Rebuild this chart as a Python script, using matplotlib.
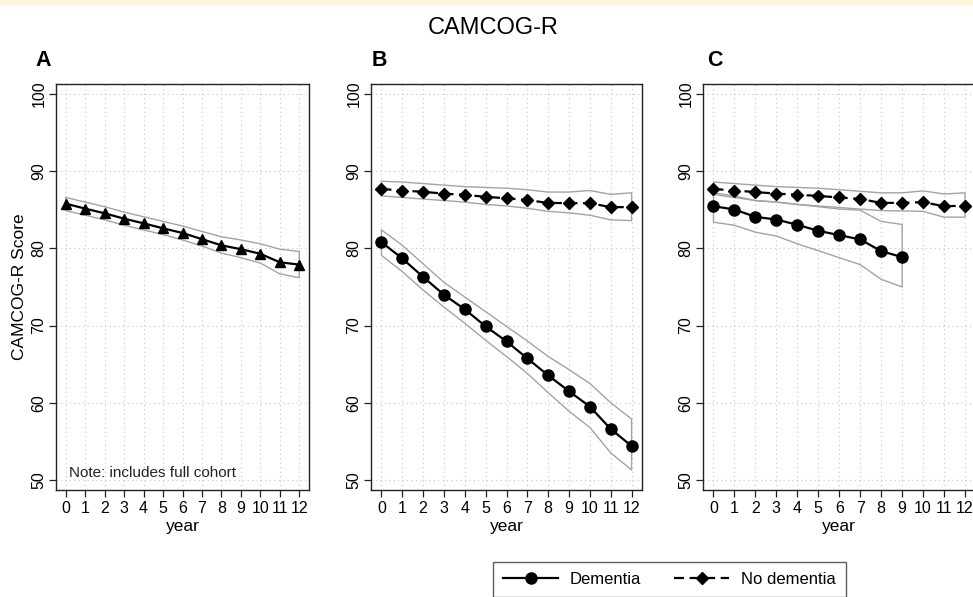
import matplotlib
matplotlib.use("Agg")
import matplotlib.pyplot as plt
from matplotlib.lines import Line2D
import numpy as np

plt.rcParams['font.family'] = ['Liberation Sans', 'DejaVu Sans']

years = list(range(13))
xtick_labels = [str(y) for y in years]
yticks = [50, 60, 70, 80, 90, 100]

# Panel A: full cohort
a_mean = [85.8, 85.15, 84.55, 83.85, 83.25, 82.6, 82.0, 81.2, 80.4, 79.9, 79.3, 78.2, 77.9]
a_upper = [86.6, 86.0, 85.4, 84.7, 84.1, 83.5, 82.9, 82.2, 81.5, 81.1, 80.6, 79.9, 79.6]
a_lower = [84.9, 84.3, 83.7, 83.0, 82.4, 81.8, 81.1, 80.3, 79.4, 78.8, 78.1, 76.7, 76.2]

# Panel B
b_dem_mean = [80.8, 78.7, 76.3, 74.0, 72.1, 69.9, 67.95, 65.75, 63.55, 61.5, 59.5, 56.6, 54.4]
b_dem_upper = [82.4, 80.4, 78.0, 75.6, 73.7, 71.8, 69.9, 68.0, 66.0, 64.3, 62.5, 60.0, 57.9]
b_dem_lower = [79.1, 77.0, 74.6, 72.4, 70.3, 68.1, 66.0, 63.8, 61.3, 58.9, 56.8, 53.5, 51.3]
b_nodem_mean = [87.7, 87.5, 87.33, 87.1, 86.94, 86.68, 86.5, 86.25, 85.9, 85.86, 85.86, 85.34, 85.36]
b_nodem_upper = [88.7, 88.6, 88.4, 88.2, 88.0, 87.9, 87.8, 87.6, 87.3, 87.3, 87.5, 87.0, 87.2]
b_nodem_lower = [86.8, 86.6, 86.4, 86.2, 86.0, 85.7, 85.5, 85.2, 84.8, 84.6, 84.3, 83.7, 83.6]

# Panel C
c_years_dem = list(range(10))
c_dem_mean = [85.47, 85.04, 84.09, 83.74, 83.06, 82.28, 81.72, 81.16, 79.65, 78.87]
c_dem_upper = [87.2, 86.8, 86.2, 86.0, 85.7, 85.4, 85.1, 84.95, 83.5, 83.1]
c_dem_lower = [83.4, 83.0, 82.1, 81.6, 80.6, 79.7, 78.8, 77.9, 76.0, 75.0]
c_nodem_mean = [87.7, 87.5, 87.3, 87.1, 86.95, 86.8, 86.6, 86.4, 85.9, 85.9, 86.0, 85.45, 85.55]
c_nodem_upper = [88.6, 88.4, 88.2, 88.0, 87.9, 87.8, 87.6, 87.4, 87.2, 87.2, 87.45, 87.05, 87.2]
c_nodem_lower = [87.0, 86.6, 86.2, 86.0, 85.7, 85.5, 85.3, 85.1, 84.9, 84.85, 84.8, 84.05, 84.05]

W, H = 973, 597
fig = plt.figure(figsize=(W / 100, H / 100), dpi=100)
fig.patch.set_facecolor('white')

# light yellow strip at the very top
fig.patches.append(plt.Rectangle((0, 1 - 5 / H), 1, 5 / H, transform=fig.transFigure,
                                 facecolor='#fdf5dc', edgecolor='none', zorder=0))

def fbox(l, r, t, b):
    return [l / W, 1 - b / H, (r - l) / W, (b - t) / H]

axA = fig.add_axes(fbox(56, 309, 84, 490))
axB = fig.add_axes(fbox(371, 642, 84, 490))
axC = fig.add_axes(fbox(703, 975.5, 84, 490))

ci_color = '#a3a3a3'
dash = (0, (4.5, 2.5))

def style(ax):
    ax.set_xlim(-0.5, 12.5)
    ax.set_ylim(48.7, 101.3)
    ax.set_xticks(years)
    ax.set_xticklabels(xtick_labels, fontsize=11.5)
    ax.set_yticks(yticks)
    ax.set_yticklabels([str(v) for v in yticks], fontsize=11.5, rotation=90, va='center')
    ax.tick_params(axis='both', direction='out', length=5, width=0.9, color='#222222', pad=2)
    ax.tick_params(axis='x', pad=3)
    ax.grid(True, linestyle=(0, (1, 3)), color='#c4c4c4', linewidth=0.8)
    ax.set_axisbelow(True)
    for s in ax.spines.values():
        s.set_color('#222222')
        s.set_linewidth(1.0)
    ax.set_xlabel('year', fontsize=12.5, labelpad=2)

def ci(ax, x, lo, hi):
    ax.fill_between(x, lo, hi, facecolor='none', edgecolor=ci_color, linewidth=1.0, zorder=2)

for ax in (axA, axB, axC):
    style(ax)

# Panel A
ci(axA, years, a_lower, a_upper)
axA.plot(years, a_mean, color='black', lw=1.6, marker='^', ms=7, zorder=3)
axA.set_ylabel('CAMCOG-R Score', fontsize=12.5, labelpad=3)
axA.text(0.05, 0.025, 'Note: includes full cohort', transform=axA.transAxes,
         fontsize=11, ha='left', va='bottom', color='#222222')

# Panel B
ci(axB, years, b_dem_lower, b_dem_upper)
ci(axB, years, b_nodem_lower, b_nodem_upper)
axB.plot(years, b_dem_mean, color='black', lw=1.6, marker='o', ms=8, zorder=3)
axB.plot(years, b_nodem_mean, color='black', lw=1.6, ls=dash, marker='D', ms=6.5, zorder=3)

# Panel C
ci(axC, c_years_dem, c_dem_lower, c_dem_upper)
ci(axC, years, c_nodem_lower, c_nodem_upper)
axC.plot(c_years_dem, c_dem_mean, color='black', lw=1.6, marker='o', ms=8, zorder=3)
axC.plot(years, c_nodem_mean, color='black', lw=1.6, ls=dash, marker='D', ms=6.5, zorder=3)

# Titles
fig.text(493 / W, 1 - 28 / H, 'CAMCOG-R', fontsize=17, ha='center', va='center')
for lab, xp in (('A', 35), ('B', 372), ('C', 707)):
    fig.text(xp / W, 1 - 60 / H, lab, fontsize=15.5, fontweight='bold', ha='left', va='center')

# Legend
handles = [Line2D([], [], color='black', lw=1.6, marker='o', ms=8),
           Line2D([], [], color='black', lw=1.6, ls=dash, marker='D', ms=6.5)]
leg = fig.legend(handles, ['Dementia', 'No dementia'], loc='upper left',
                 bbox_to_anchor=(493 / W, 1 - 562 / H), ncol=2, fontsize=12,
                 frameon=True, fancybox=False, borderpad=0.6, borderaxespad=0,
                 handlelength=3.3, handletextpad=0.7, columnspacing=2.0)
leg.get_frame().set_edgecolor('#333333')
leg.get_frame().set_linewidth(1.0)

fig.savefig('out.png', dpi=100)
